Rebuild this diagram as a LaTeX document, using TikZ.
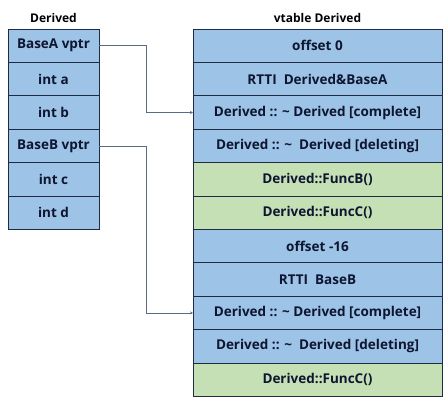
\documentclass[tikz,border=0pt]{standalone}
\usepackage{fontspec}
\setmainfont{Open Sans}
\usepackage{xcolor}
\usetikzlibrary{positioning, arrows.meta}

\definecolor{cellblue}{HTML}{9DC3E6}
\definecolor{cellgreen}{HTML}{C5E0B4}
\definecolor{celltext}{HTML}{0E1530}
\definecolor{cellline}{HTML}{1F2A44}
\definecolor{ptrline}{HTML}{5B6B85}

\begin{document}
\begin{tikzpicture}[
  x=1pt, y=1pt,
  cell/.style={
    rectangle, draw=cellline, line width=0.8pt, fill=cellblue, minimum height=33.4pt,
    inner sep=0pt, outer sep=0pt, align=center, text=celltext,
    font=\fontsize{13.5}{15}\selectfont\bfseries
  },
  obj/.style={cell, minimum width=91pt},
  vtab/.style={cell, minimum width=249pt},
  fn/.style={fill=cellgreen},
  title/.style={font=\fontsize{12}{14}\selectfont\bfseries, text=black, inner sep=1pt},
  ptr/.style={-{Stealth[length=3pt, width=3pt]}, draw=ptrline, line width=0.6pt},
  node distance=0pt
]
\useasboundingbox (0,0) rectangle (448,-405);

% ==================== OBJECT LAYOUT ====================
\node[title] (objtitle) at (53.5,-18) {Derived};
\node[obj, anchor=north] (vptrA) at (53.5,-29) {BaseA vptr};
\node[obj, below=of vptrA] (inta) {int a};
\node[obj, below=of inta] (intb) {int b};
\node[obj, below=of intb] (vptrB) {BaseB vptr};
\node[obj, below=of vptrB] (intc) {int c};
\node[obj, below=of intc] (intd) {int d};

% ==================== VTABLE ====================
\node[title] (vtitle) at (317.5,-18) {vtable Derived};
\node[vtab, anchor=north] (offA) at (317.5,-29) {offset 0};
\node[vtab, below=of offA] (rttiA) {RTTI\ \ Derived\&BaseA};
\node[vtab, below=of rttiA] (dtorA) {Derived :: \textasciitilde\ Derived [complete]};
\node[vtab, below=of dtorA] (delA) {Derived :: \textasciitilde\ \ Derived [deleting]};
\node[vtab, fn, below=of delA] (funcB) {Derived::FuncB()};
\node[vtab, fn, below=of funcB] (funcC) {Derived::FuncC()};
\node[vtab, below=of funcC] (offB) {offset -16};
\node[vtab, below=of offB] (rttiB) {RTTI\ \ BaseB};
\node[vtab, below=of rttiB] (dtorB) {Derived :: \textasciitilde\ Derived [complete]};
\node[vtab, below=of dtorB] (delB) {Derived :: \textasciitilde\ \ Derived [deleting]};
\node[vtab, fn, below=of delB] (funcCB) {Derived::FuncC()};

% ==================== POINTERS ====================
\draw[ptr] (vptrA.east) -- ++(47,0) |- (dtorA.west);
\draw[ptr] (vptrB.east) -- ++(47,0) |- (dtorB.west);

\end{tikzpicture}
\end{document}
